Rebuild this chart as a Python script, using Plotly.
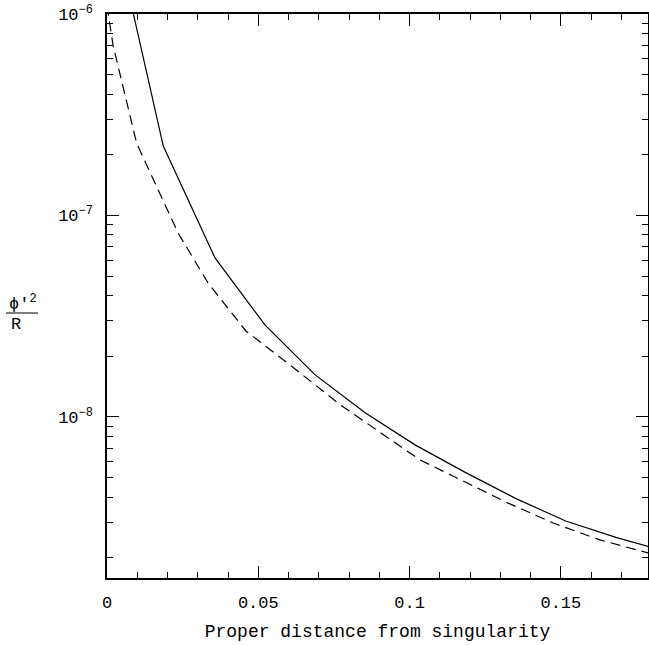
import plotly.graph_objects as go

# --- data ---
solid_x = [0.002, 0.0186, 0.0357, 0.0522, 0.0687, 0.0853, 0.1018, 0.1184, 0.135, 0.1516, 0.1682, 0.1848]
solid_y = [2.8e-6, 2.21e-7, 6.15e-8, 2.86e-8, 1.62e-8, 1.047e-8, 7.26e-9, 5.30e-9, 3.94e-9, 3.04e-9, 2.52e-9, 2.15e-9]

dash_x = [0.0, 0.002, 0.0098, 0.0175, 0.0235, 0.0334, 0.0459, 0.0605, 0.077, 0.1034, 0.1177, 0.1326, 0.1475, 0.1629, 0.1789]
dash_y = [1.1e-6, 7.0e-7, 2.28e-7, 1.29e-7, 8.18e-8, 4.62e-8, 2.67e-8, 1.81e-8, 1.15e-8, 6.12e-9, 4.78e-9, 3.73e-9, 2.97e-9, 2.45e-9, 2.11e-9]

x_ticks = [0, 0.05, 0.1, 0.15]
x_labels = ["0", "0.05", "0.1", "0.15"]
y_ticks = [1e-8, 1e-7, 1e-6]
y_labels = ["10<sup>\u22128</sup>", "10<sup>\u22127</sup>", "10<sup>\u22126</sup>"]
x_title = "Proper distance from singularity"

FONT = "Liberation Mono"
W, H = 649, 645
ML, MR, MT, MB = 107, 1, 14, 67
PW, PH = W - ML - MR, H - MT - MB


def px(xp):
    return (xp - ML) / PW


def py(yp):
    return 1 - (yp - MT) / PH


minor_y = [m * 10.0 ** e for e in (-9, -8, -7) for m in range(2, 10)]

fig = go.Figure()
fig.add_trace(go.Scatter(x=solid_x, y=solid_y, mode="lines",
                         line=dict(color="black", width=1.2), showlegend=False))
fig.add_trace(go.Scatter(x=dash_x, y=dash_y, mode="lines",
                         line=dict(color="black", width=1.2, dash="10px,6px"), showlegend=False))

axis_common = dict(showline=True, linecolor="black", linewidth=1.5, mirror="ticks",
                   ticks="inside", ticklen=12, tickwidth=1, tickcolor="black",
                   showgrid=False, zeroline=False,
                   tickfont=dict(family=FONT, size=17, color="black"))

fig.update_xaxes(range=[0, 0.1788], tickmode="array", tickvals=x_ticks, ticktext=x_labels,
                 minor=dict(ticks="inside", ticklen=6, tickwidth=1, tickcolor="black", dtick=0.01, showgrid=False),
                 title=dict(text=x_title, font=dict(family=FONT, size=18, color="black"), standoff=12),
                 ticklabelstandoff=8, **axis_common)
fig.update_yaxes(type="log", range=[-8.8, -6], tickmode="array", tickvals=y_ticks, ticktext=y_labels,
                 minor=dict(ticks="inside", ticklen=6, tickwidth=1, tickcolor="black",
                            tickmode="array", tickvals=minor_y, showgrid=False),
                 ticklabelstandoff=9, **axis_common)

# y-axis label as a fraction
fig.add_annotation(x=px(23), y=py(303), xref="paper", yref="paper", xanchor="center", yanchor="middle",
                   text="\u03d5'<sup>2</sup>", showarrow=False, font=dict(family=FONT, size=17, color="black"))
fig.add_annotation(x=px(16), y=py(324), xref="paper", yref="paper", xanchor="center", yanchor="middle",
                   text="R", showarrow=False, font=dict(family=FONT, size=17, color="black"))
fig.add_shape(type="line", xref="paper", yref="paper", x0=px(6), x1=px(38),
              y0=py(313), y1=py(313), line=dict(color="black", width=1))

fig.update_layout(width=W, height=H, margin=dict(l=ML, r=MR, t=MT, b=MB, autoexpand=False),
                  paper_bgcolor="white", plot_bgcolor="white")
fig.write_html("out.html", config={"displayModeBar": False})
